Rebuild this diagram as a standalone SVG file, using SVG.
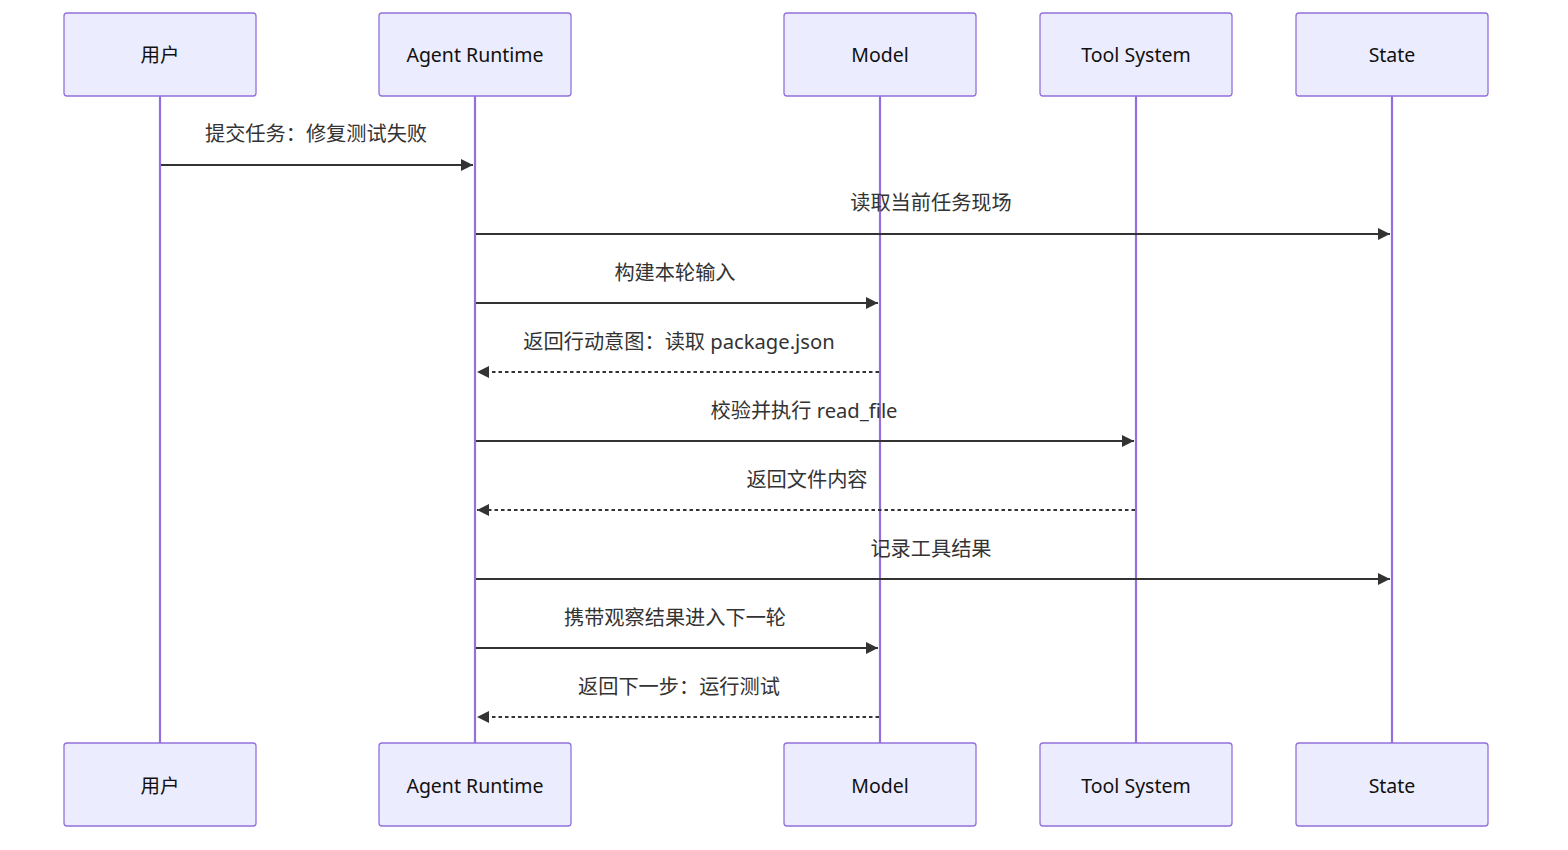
<svg xmlns="http://www.w3.org/2000/svg" width="1568" height="850" viewBox="0 0 1568 850">
<style>
.actor{fill:#ECECFF;stroke:#9370DB;stroke-width:1.3}
.atext{font-family:"Noto Sans","Noto Sans CJK SC",sans-serif;font-size:19.5px;fill:#111;text-anchor:middle;dominant-baseline:central}
.life{stroke:#9370DB;stroke-width:2.2}
.msg{stroke:#333;stroke-width:1.8;fill:none}
.dash{stroke-dasharray:3.5,3}
.mtext{font-family:"Noto Sans","Noto Sans CJK SC",sans-serif;font-size:20.2px;fill:#333;text-anchor:middle;dominant-baseline:central}
</style>
<defs>
<marker id="ah" viewBox="0 0 12 12" refX="12" refY="6" markerWidth="12" markerHeight="12" markerUnits="userSpaceOnUse" orient="auto">
<path d="M0,0 L12,6 L0,12 z" fill="#333"/>
</marker>
</defs>
<rect width="1568" height="850" fill="#fff"/>
<g id="lifelines">
<line class="life" x1="160" y1="96" x2="160" y2="743"/>
<line class="life" x1="475" y1="96" x2="475" y2="743"/>
<line class="life" x1="880" y1="96" x2="880" y2="743"/>
<line class="life" x1="1136" y1="96" x2="1136" y2="743"/>
<line class="life" x1="1392" y1="96" x2="1392" y2="743"/>
</g>
<g id="actor-user-top"><rect class="actor" x="64" y="13" width="192" height="83" rx="3"/><text class="atext" x="160" y="54.5">用户</text></g>
<g id="actor-runtime-top"><rect class="actor" x="379" y="13" width="192" height="83" rx="3"/><text class="atext" x="475" y="54.5">Agent Runtime</text></g>
<g id="actor-model-top"><rect class="actor" x="784" y="13" width="192" height="83" rx="3"/><text class="atext" x="880" y="54.5">Model</text></g>
<g id="actor-tool-top"><rect class="actor" x="1040" y="13" width="192" height="83" rx="3"/><text class="atext" x="1136" y="54.5">Tool System</text></g>
<g id="actor-state-top"><rect class="actor" x="1296" y="13" width="192" height="83" rx="3"/><text class="atext" x="1392" y="54.5">State</text></g>
<g id="actor-user-bottom"><rect class="actor" x="64" y="743" width="192" height="83" rx="3"/><text class="atext" x="160" y="785">用户</text></g>
<g id="actor-runtime-bottom"><rect class="actor" x="379" y="743" width="192" height="83" rx="3"/><text class="atext" x="475" y="785">Agent Runtime</text></g>
<g id="actor-model-bottom"><rect class="actor" x="784" y="743" width="192" height="83" rx="3"/><text class="atext" x="880" y="785">Model</text></g>
<g id="actor-tool-bottom"><rect class="actor" x="1040" y="743" width="192" height="83" rx="3"/><text class="atext" x="1136" y="785">Tool System</text></g>
<g id="actor-state-bottom"><rect class="actor" x="1296" y="743" width="192" height="83" rx="3"/><text class="atext" x="1392" y="785">State</text></g>
<g id="messages">
<line class="msg" x1="161" y1="165" x2="473" y2="165" marker-end="url(#ah)"/>
<text class="mtext" x="316" y="133">提交任务：修复测试失败</text>
<line class="msg" x1="476" y1="234" x2="1390" y2="234" marker-end="url(#ah)"/>
<text class="mtext" x="931" y="202">读取当前任务现场</text>
<line class="msg" x1="476" y1="303" x2="878" y2="303" marker-end="url(#ah)"/>
<text class="mtext" x="675" y="272">构建本轮输入</text>
<line class="msg dash" x1="879" y1="372" x2="477" y2="372" marker-end="url(#ah)"/>
<text class="mtext" x="679" y="341">返回行动意图：读取 package.json</text>
<line class="msg" x1="476" y1="441" x2="1134" y2="441" marker-end="url(#ah)"/>
<text class="mtext" x="804" y="410">校验并执行 read_file</text>
<line class="msg dash" x1="1135" y1="510" x2="477" y2="510" marker-end="url(#ah)"/>
<text class="mtext" x="807" y="479">返回文件内容</text>
<line class="msg" x1="476" y1="579" x2="1390" y2="579" marker-end="url(#ah)"/>
<text class="mtext" x="931" y="548">记录工具结果</text>
<line class="msg" x1="476" y1="648" x2="878" y2="648" marker-end="url(#ah)"/>
<text class="mtext" x="675" y="617">携带观察结果进入下一轮</text>
<line class="msg dash" x1="879" y1="717" x2="477" y2="717" marker-end="url(#ah)"/>
<text class="mtext" x="679" y="686">返回下一步：运行测试</text>
</g>
</svg>
